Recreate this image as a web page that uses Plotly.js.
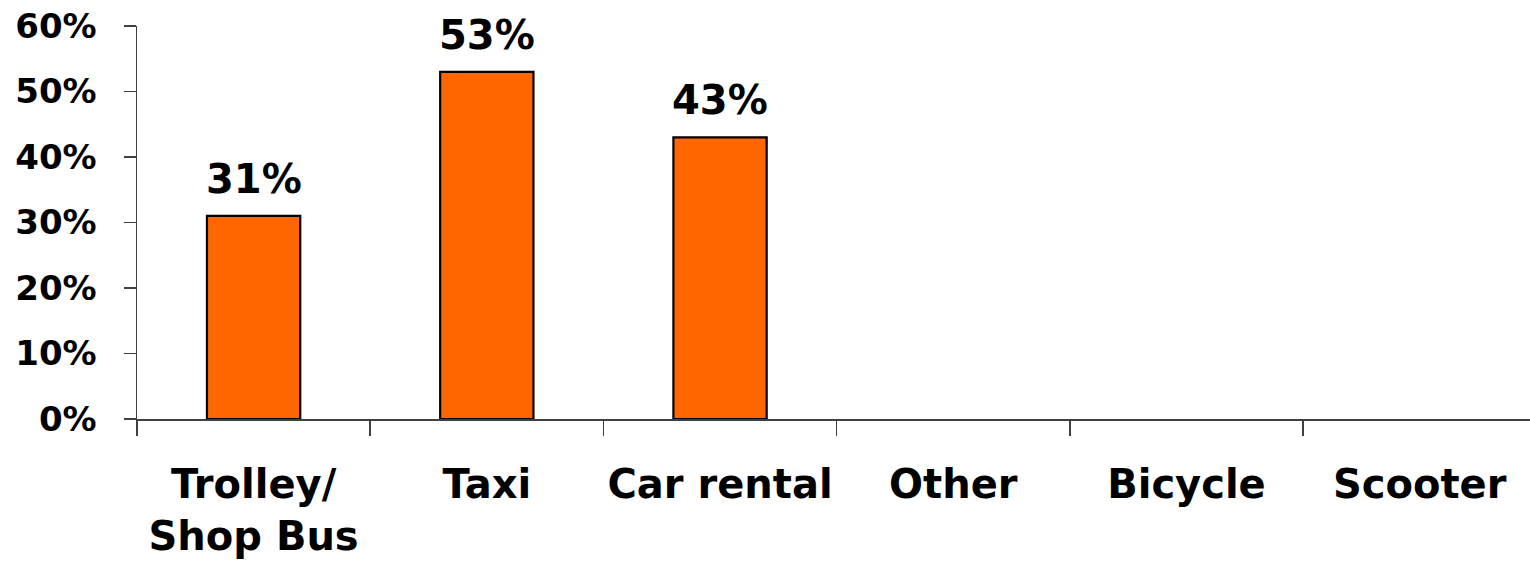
<!DOCTYPE html>
<html>
<head>
<meta charset="utf-8">
<script src="https://cdn.plot.ly/plotly-3.0.1.min.js"></script>
<style>html,body{margin:0;padding:0;background:#fff;}#chart{width:1530px;height:566px;}</style>
</head>
<body>
<div id="chart"></div>
<script>
var categories = ["Trolley/<br>Shop Bus", "Taxi", "Car rental", "Other", "Bicycle", "Scooter"];
var values = [31, 53, 43, null, null, null];
var valueLabels = ["31%", "53%", "43%", "", "", ""];

var FONT = "DejaVu Sans, Arial, sans-serif";

var annotations = [];
for (var i = 0; i < categories.length; i++) {
  if (values[i] !== null) {
    annotations.push({
      x: categories[i], y: values[i], xref: "x", yref: "y",
      text: "<b>" + valueLabels[i] + "</b>", showarrow: false,
      yanchor: "bottom", yshift: 12,
      font: {family: FONT, size: 40, color: "#000"}
    });
  }
}

var trace = {
  type: "bar",
  x: categories,
  y: values,
  marker: {color: "#FF6600", line: {color: "#000", width: 2.2}},
  hoverinfo: "skip"
};

var layout = {
  width: 1530, height: 566,
  margin: {l: 137, r: 0, t: 26, b: 147, pad: 0},
  paper_bgcolor: "#fff", plot_bgcolor: "#fff",
  showlegend: false,
  bargap: 0.6,
  font: {family: FONT, color: "#000"},
  xaxis: {
    type: "category",
    range: [-0.5, 5.473],
    showline: true, linecolor: "#404040", linewidth: 1.5,
    ticks: "outside", tickson: "boundaries", ticklen: 15, tickcolor: "#404040", tickwidth: 1.5,
    tickangle: 0,
    tickfont: {family: FONT, size: 40, color: "#000", weight: "bold"},
    ticklabelstandoff: 29,
    showgrid: false, zeroline: false, fixedrange: true
  },
  yaxis: {
    range: [0, 60], dtick: 10, tick0: 0, ticksuffix: "%",
    showline: true, linecolor: "#404040", linewidth: 1.5,
    ticks: "outside", ticklen: 12, tickcolor: "#404040", tickwidth: 1.5,
    tickfont: {family: FONT, size: 34, color: "#000", weight: "bold"},
    ticklabelstandoff: 20,
    showgrid: false, zeroline: false, fixedrange: true
  },
  annotations: annotations
};

Plotly.newPlot("chart", [trace], layout, {displayModeBar: false, staticPlot: true});
</script>
</body>
</html>
